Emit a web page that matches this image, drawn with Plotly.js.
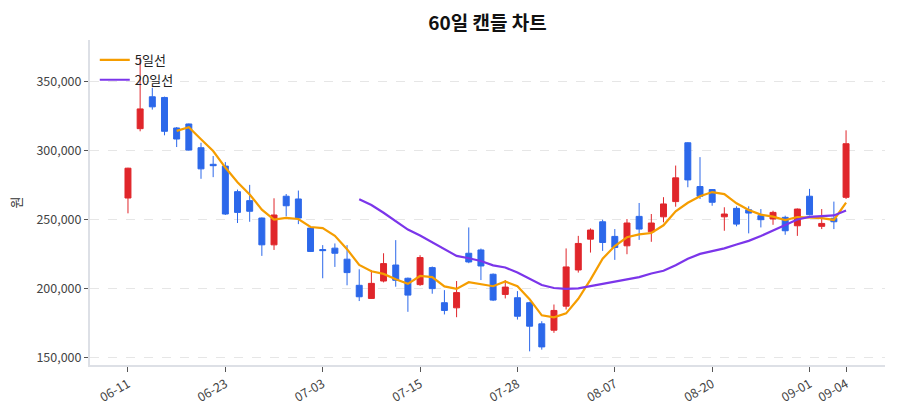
<!DOCTYPE html>
<html>
<head>
<meta charset="utf-8">
<script src="https://cdn.plot.ly/plotly-3.0.1.min.js"></script>
<style>
  html, body { margin: 0; padding: 0; background: #fff; }
  #chart { width: 900px; height: 420px; }
</style>
</head>
<body>
<div id="chart"></div>
<script>
// ---- data ----
const dates = [
  "06-11","06-12","06-13","06-16","06-17","06-18","06-19","06-20","06-23","06-24",
  "06-25","06-26","06-27","06-30","07-01","07-02","07-03","07-04","07-07","07-08",
  "07-09","07-10","07-11","07-14","07-15","07-16","07-18","07-21","07-22","07-23",
  "07-24","07-25","07-28","07-29","07-30","07-31","08-01","08-04","08-05","08-06",
  "08-07","08-08","08-11","08-12","08-13","08-14","08-18","08-19","08-20","08-21",
  "08-22","08-25","08-26","08-27","08-28","08-29","09-01","09-02","09-03","09-04"
];
const openP = [
  265600,315800,338900,338400,316300,319200,302000,290000,288700,270200,
  263700,251100,231700,266900,264900,243800,228300,229300,221300,202400,
  192900,205500,217100,207500,202900,215200,189800,186100,225600,228000,
  210400,195800,193400,189800,174500,169900,187300,213500,235800,248400,
  237800,231000,252300,241100,252000,263000,305600,273900,271700,252000,
  258100,257100,252800,250400,251600,245500,266900,245100,250900,266100
];
const highP = [
  287500,367500,345400,339000,317000,319500,305600,296000,291600,271700,
  275100,251500,265400,268500,271000,244500,231500,232700,231500,214000,
  213500,225600,235100,208000,224200,216000,198900,205500,244300,229000,
  211000,206200,198200,190500,176400,188500,229100,238200,243600,249900,
  243100,250400,262000,254000,266200,289100,306000,295200,272000,258900,
  259600,259600,257600,256400,252800,258000,272200,257600,263000,314600
];
const lowP = [
  254500,313900,329600,311000,302500,300000,279500,280700,253300,247500,
  248400,223700,228000,252300,246700,226500,207500,215700,202400,191000,
  192500,204500,201400,183200,202000,196300,181300,179300,218400,206200,
  191000,192900,177600,154600,155800,168000,184900,211600,226100,227300,
  220800,224900,235300,233900,248000,259300,273400,264900,260000,241900,
  245100,240000,244300,246200,239000,238200,253000,243100,243100,264900
];
const closeP = [
  287200,330100,331600,313900,308300,300300,286700,289000,254000,255200,
  256000,231700,253300,260000,251100,226900,227500,225600,211600,194100,
  203800,218100,206000,195300,222500,200000,184200,197100,219300,216400,
  191700,201100,180000,172800,157800,184200,215700,232700,242400,233400,
  229800,247500,243100,247500,261300,280200,278700,266900,262500,254000,
  246700,254700,249900,255200,241900,257600,253500,247200,248400,304900
];
const tickDates = ["06-11","06-23","07-03","07-15","07-28","08-07","08-20","09-01","09-04"];
const yTicks = [150000, 200000, 250000, 300000, 350000];
const ma5Name = "5일선";
const ma20Name = "20일선";

// moving averages of the close (definition of 5일선 / 20일선)
function movingAvg(arr, n) {
  return arr.map((v, i) => {
    if (i < n - 1) return null;
    let s = 0;
    for (let k = i - n + 1; k <= i; k++) s += arr[k];
    return s / n;
  });
}
const ma5 = movingAvg(closeP, 5);
const ma20 = movingAvg(closeP, 20);

const FONT = '"Noto Sans CJK KR", "Noto Sans", sans-serif';
const RED = '#e0262b';
const BLUE = '#2c68ea';

const traces = [
  {
    type: 'candlestick',
    x: dates, open: openP, high: highP, low: lowP, close: closeP,
    increasing: { line: { color: RED, width: 1 }, fillcolor: RED },
    decreasing: { line: { color: BLUE, width: 1 }, fillcolor: BLUE },
    whiskerwidth: 0,
    showlegend: false,
    hoverinfo: 'skip'
  },
  {
    type: 'scatter', mode: 'lines', name: ma5Name,
    x: dates, y: ma5,
    line: { color: '#f59d00', width: 2.2 }
  },
  {
    type: 'scatter', mode: 'lines', name: ma20Name,
    x: dates, y: ma20,
    line: { color: '#7b35ea', width: 2.2 }
  }
];

const layout = {
  width: 900, height: 420,
  paper_bgcolor: '#ffffff', plot_bgcolor: '#ffffff',
  font: { family: FONT, size: 12, color: '#333' },
  margin: { l: 90, r: 15, t: 40, b: 55 },
  title: {
    text: '<b>60일 캔들 차트</b>',
    font: { family: FONT, size: 19, color: '#111' },
    xref: 'paper', x: 0.5, xanchor: 'center',
    yref: 'container', y: 0.945, yanchor: 'middle'
  },
  showlegend: true,
  legend: {
    x: 0.006, y: 0.985, xanchor: 'left', yanchor: 'top',
    bgcolor: 'rgba(255,255,255,0)',
    font: { family: FONT, size: 13, color: '#222' },
    tracegroupgap: 0
  },
  xaxis: {
    type: 'category',
    range: [-3.12, 62.2],
    tickmode: 'array', tickvals: tickDates, ticktext: tickDates,
    tickangle: -30,
    ticks: 'outside', ticklen: 5, tickcolor: '#555', tickwidth: 1,
    showline: true, linecolor: '#dde0e6', linewidth: 2,
    showgrid: false, zeroline: false,
    rangeslider: { visible: false },
    tickfont: { family: FONT, size: 12.5, color: '#444' }
  },
  yaxis: {
    range: [144700, 380000],
    tickmode: 'array', tickvals: yTicks,
    tickformat: ',d',
    ticks: 'outside', ticklen: 4, tickcolor: '#555', tickwidth: 1,
    showline: true, linecolor: '#dde0e6', linewidth: 2,
    showgrid: true, gridcolor: '#e6e6e6', griddash: 'dash', gridwidth: 1,
    zeroline: false,
    title: { text: '원', font: { family: FONT, size: 13, color: '#333' }, standoff: 12 },
    tickfont: { family: FONT, size: 12.5, color: '#444' }
  }
};

Plotly.newPlot('chart', traces, layout, { displayModeBar: false, staticPlot: true });
</script>
</body>
</html>
